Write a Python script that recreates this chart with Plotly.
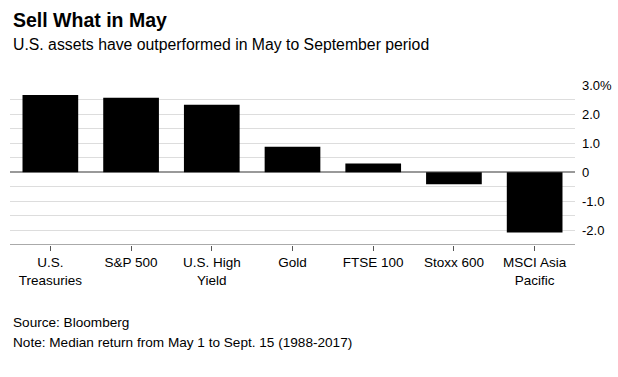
import plotly.graph_objects as go

categories = ["U.S.<br>Treasuries", "S&P 500", "U.S. High<br>Yield", "Gold", "FTSE 100", "Stoxx 600", "MSCI Asia<br>Pacific"]
values = [2.66, 2.56, 2.32, 0.88, 0.30, -0.41, -2.07]
ytick_vals = [-2.5, -2.0, -1.5, -1.0, -0.5, 0, 0.5, 1.0, 1.5, 2.0, 2.5, 3.0]
ytick_text = ["", "-2.0", "", "-1.0", "", "0", "", "1.0", "", "2.0", "", "3.0%"]

FONT = "Liberation Sans"

fig = go.Figure(go.Bar(
    x=list(range(len(categories))), y=values,
    marker=dict(color="#000000", line=dict(width=0)),
    width=0.69, hoverinfo="skip",
))

fig.update_layout(
    width=618, height=377,
    margin=dict(l=10, r=43, t=85, b=132),
    paper_bgcolor="white", plot_bgcolor="white",
    showlegend=False,
    font=dict(family=FONT, size=13, color="#000000"),
    xaxis=dict(
        range=[-0.5, 6.5],
        tickmode="array", tickvals=list(range(len(categories))), ticktext=categories,
        ticks="outside", ticklen=5, tickcolor="#555555", tickwidth=1,
        showline=False, showgrid=False, zeroline=False,
        tickfont=dict(family=FONT, size=13.5, color="#000000"),
        fixedrange=True, automargin=False,
    ),
    yaxis=dict(
        range=[-2.5, 3.0], side="right",
        tickmode="array", tickvals=ytick_vals, ticktext=ytick_text,
        showgrid=True, gridcolor="#dddddd", gridwidth=1,
        zeroline=True, zerolinecolor="#999999", zerolinewidth=2,
        showline=False, ticks="",
        tickfont=dict(family=FONT, size=13, color="#000000"),
        ticklabelstandoff=6,
        fixedrange=True, automargin=False,
    ),
    shapes=[dict(type="line", xref="paper", yref="y", x0=0, x1=1, y0=-2.5, y1=-2.5,
                 line=dict(color="#555555", width=1))],
    annotations=[
        dict(text="<b>Sell What in May</b>", xref="paper", yref="paper", x=0, y=1,
             xanchor="left", yanchor="middle", xshift=1, yshift=85-20,
             showarrow=False, font=dict(family=FONT, size=19.5, color="#000000")),
        dict(text="U.S. assets have outperformed in May to September period", xref="paper", yref="paper",
             x=0, y=1, xanchor="left", yanchor="middle", xshift=1, yshift=85-44,
             showarrow=False, font=dict(family=FONT, size=15.8, color="#000000")),
        dict(text="Source: Bloomberg", xref="paper", yref="paper", x=0, y=0,
             xanchor="left", yanchor="middle", xshift=1, yshift=-(322-245),
             showarrow=False, font=dict(family=FONT, size=13.6, color="#000000")),
        dict(text="Note: Median return from May 1 to Sept. 15 (1988-2017)", xref="paper", yref="paper", x=0, y=0,
             xanchor="left", yanchor="middle", xshift=1, yshift=-(342-245),
             showarrow=False, font=dict(family=FONT, size=13.6, color="#000000")),
    ],
)

fig.write_html("out.html", config={"displayModeBar": False, "staticPlot": True},
               post_script="document.body.style.margin='0';document.body.style.overflow='hidden';")
